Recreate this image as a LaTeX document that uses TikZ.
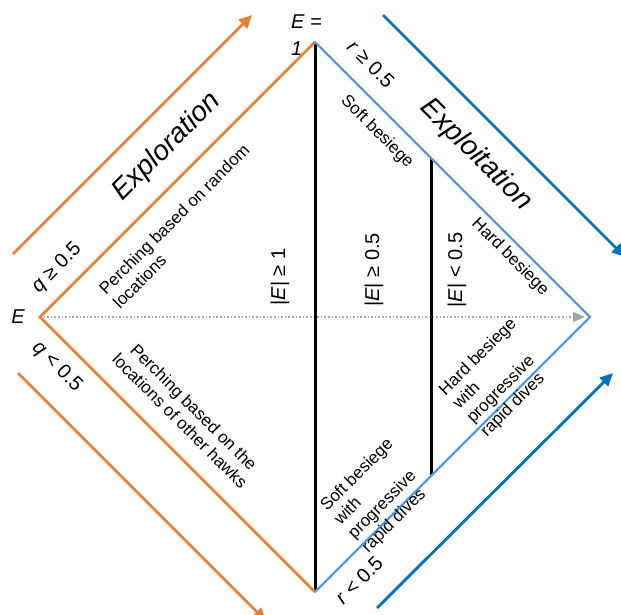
\documentclass[tikz,border=0pt]{standalone}
\usepackage{fontspec}
\setmainfont{Liberation Sans}
\usetikzlibrary{arrows.meta, positioning}
\definecolor{hhorange}{HTML}{ED7D31}
\definecolor{hhblue}{HTML}{0070C0}
\definecolor{hhlight}{HTML}{5B9BD5}
\definecolor{hhgray}{HTML}{A6A6A6}

\begin{document}
\begin{tikzpicture}[x=1pt, y=-1pt,
  small/.style={inner sep=0pt, font=\fontsize{17}{19.5}\selectfont},
  cond/.style={inner sep=0pt, font=\fontsize{20}{24}\selectfont},
  phase/.style={inner sep=0pt, font=\fontsize{28}{32}\selectfont\itshape},
  orangeedge/.style={hhorange, line width=2.6pt},
  blueedge/.style={hhlight, line width=2.4pt},
  bigarrow/.style={line width=2.8pt, -{Triangle[length=13pt,width=12pt]}}]
\useasboundingbox (0,0) rectangle (621,615);

\coordinate (E) at (40,317);
\coordinate (top) at (315,42);
\coordinate (bot) at (315,592);
\coordinate (right) at (590,317);
\coordinate (hardtop) at (431,158);
\coordinate (hardbot) at (431,476);

\coordinate (exA) at (13,254);
\coordinate (exB) at (252,15);
\coordinate (exC) at (18,373);
\coordinate (exD) at (266,621);
\coordinate (itA) at (383,15);
\coordinate (itB) at (625,257);
\coordinate (itC) at (377,608);
\coordinate (itD) at (613,373);

\draw[hhgray, line width=1.6pt, dash pattern=on 1.6pt off 2pt, shorten >=5pt,
  -{Triangle[length=12pt,width=10pt]}] (E) -- (right);
\draw[line width=3pt] (top) -- (bot);
\draw[line width=3pt] (hardtop) -- (hardbot);
\draw[orangeedge] (top) -- (E) -- (bot);
\draw[blueedge] (top) -- (right) -- (bot);

\draw[bigarrow, hhorange] (exA) -- (exB);
\draw[bigarrow, hhorange] (exC) -- (exD);
\draw[bigarrow, hhblue] (itA) -- (itB);
\draw[bigarrow, hhblue] (itC) -- (itD);

\node[cond, left=15pt of E] (Elbl) {\itshape E};
\node[cond, align=left, anchor=north west, font=\fontsize{20}{27}\selectfont] (Eone) at (291,15) {\textit{E} =\\\textit{1}};

\node[cond, rotate=45] (qhi) at (57,268) {\textit{q} ≥ 0.5};
\node[cond, rotate=-45] (qlo) at (57,367) {\textit{q} < 0.5};
\node[cond, rotate=-45] (rhi) at (371,64) {\textit{r} ≥ 0.5};
\node[cond, rotate=45] (rlo) at (359,580) {\textit{r} < 0.5};

\node[cond, rotate=90] (Eabs1) at (280,277) {|\textit{E}| ≥ 1};
\node[cond, rotate=90] (Eabs2) at (374,270) {|\textit{E}| ≥ 0.5};
\node[cond, rotate=90] (Eabs3) at (457,270) {|\textit{E}| < 0.5};

\node[phase, rotate=45] (explore) at (167,147) {Exploration};
\node[phase, rotate=-45] (exploit) at (476,155) {Exploitation};

\node[small, rotate=45, align=left] (random) at (181,226) {Perching based on random\\locations};
\node[small, rotate=-45, align=center] (hawks) at (187,414) {Perching based on the\\locations of other hawks};
\node[small, rotate=-45] (soft) at (377,132) {Soft besiege};
\node[small, rotate=-45] (hard) at (510,257) {Hard besiege};
\node[small, rotate=45, align=left] (softdive) at (378,496) {Soft besiege\\with\\progressive\\rapid dives};
\node[small, rotate=45, align=left] (harddive) at (499,378) {Hard besiege\\with\\progressive\\rapid dives};
\end{tikzpicture}
\end{document}
